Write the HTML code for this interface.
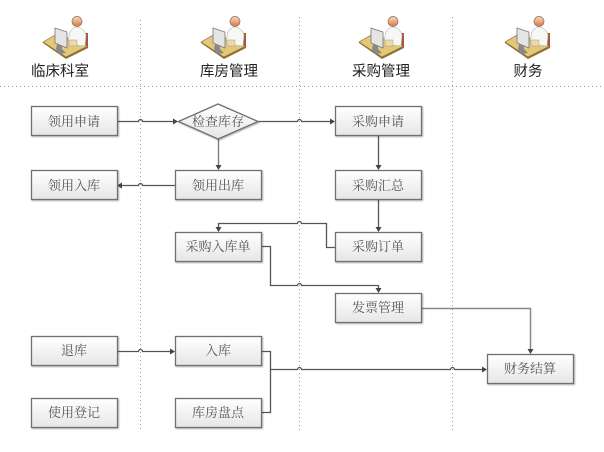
<!DOCTYPE html>
<html><head><meta charset="utf-8"><style>
html,body{margin:0;padding:0;background:#fff}
svg{display:block}
.h{font:14.5px "Liberation Sans","Noto Sans CJK SC",sans-serif;fill:#222;text-anchor:middle}
.l{font:13px "Liberation Serif","Noto Serif CJK SC",serif;fill:#555;text-anchor:middle}
.c{fill:none;stroke:#555;stroke-width:1.3}
.d{stroke:#999;stroke-width:1;stroke-dasharray:1 3;fill:none}
</style></head><body>
<svg width="604" height="452" viewBox="0 0 604 452" xmlns="http://www.w3.org/2000/svg">
<defs>
<linearGradient id="g" x1="0" y1="0" x2="0" y2="1"><stop offset="0" stop-color="#fff"/><stop offset="1" stop-color="#e6e6e6"/></linearGradient>
<linearGradient id="sk" x1="0" y1="0" x2="0" y2="1"><stop offset="0" stop-color="#f8dcc4"/><stop offset="1" stop-color="#d9763f"/></linearGradient>
<g id="p">
<path d="M0 27 L14 19 L45 31 L23 42 Z" fill="#e3c878" stroke="#8a6a35" stroke-width=".7"/>
<path d="M0 27 L23 42 L45 31 L45 33 L23 44 L0 28 Z" fill="#8f6f38"/>
<rect x="42.500" y="18" width="2.500" height="13" fill="#a5583a"/>
<path d="M27 17 Q30 12 34 12 Q41 13 43 20 L42 31 L33 30 L30 25 L25 26 Z" fill="#f7f7f5" stroke="#b5b5b5" stroke-width=".6"/>
<circle cx="34" cy="6.500" r="5" fill="url(#sk)" stroke="#8a6a55" stroke-width=".7"/>
<path d="M12 13 L24 17 L24 33 L12 28 Z" fill="#e4e4e4" stroke="#777" stroke-width=".8"/>
<path d="M14 29 L19 31 L19 34 L23 38 L16 39 L13 34 Z" fill="#888"/>
<rect x="26" y="25" width="8" height="6" fill="#eed9a8" stroke="#a98" stroke-width=".5"/>
</g>
<filter id="s" x="-5%" y="-10%" width="110%" height="130%"><feDropShadow dx="1" dy="1" stdDeviation=".8" flood-color="#000" flood-opacity=".3"/></filter>
</defs>

<!-- separators -->
<path class="d" d="M140.500 20V432M299.500 17V432M452.500 17V432M0 86.500H604"/>

<!-- icons -->
<use href="#p" x="43" y="15"/>
<use href="#p" x="201" y="15"/>
<use href="#p" x="359" y="15"/>
<use href="#p" x="505" y="15"/>

<!-- headers -->
<text class="h" x="60" y="76">临床科室</text>
<text class="h" x="229" y="76">库房管理</text>
<text class="h" x="381" y="76">采购管理</text>
<text class="h" x="528" y="76">财务</text>

<!-- connectors -->
<path class="c" d="M117 121.500H138.500a2 2 0 0 1 4 0H173"/>
<path class="c" d="M258 121.500H297.500a2 2 0 0 1 4 0H330"/>
<path class="c" stroke-width="1.600" style="stroke:#777" d="M218.500 139V165"/>
<path class="c" d="M175 185.500H142.500a2 2 0 0 0 -4 0H122"/>
<path class="c" d="M378.500 136V165"/>
<path class="c" d="M378.500 200V227"/>
<path class="c" d="M335 247.500H326.500V223.500H301.500a2 2 0 0 0 -4 0H218.500V227"/>
<path class="c" d="M261 246.500H270.500V285.500H297.500a2 2 0 0 1 4 0H378.500V288"/>
<path class="c" style="stroke:#888;stroke-width:1.500" d="M422 308.500H530.500V349"/>
<path class="c" d="M117 351.500H138.500a2 2 0 0 1 4 0H170"/>
<path class="c" d="M261 351.500H270.500V412.500H261"/>
<path class="c" d="M270.500 369.500H297.500a2 2 0 0 1 4 0H450.500a2 2 0 0 1 4 0H482"/>

<!-- arrowheads -->
<path fill="#444" d="M178 121.500l-5-3v6z"/>
<path fill="#444" d="M335 121.500l-5-3v6z"/>
<path fill="#444" d="M218.500 170l-3-5h6z"/>
<path fill="#444" d="M117 185.500l5-3v6z"/>
<path fill="#444" d="M378.500 170l-3-5h6z"/>
<path fill="#444" d="M378.500 232l-3-5h6z"/>
<path fill="#444" d="M218.500 232l-3-5h6z"/>
<path fill="#444" d="M378.500 293l-3-5h6z"/>
<path fill="#444" d="M530.500 354l-3-5h6z"/>
<path fill="#444" d="M175 351.500l-5-3v6z"/>
<path fill="#444" d="M487 369.500l-5-3v6z"/>

<!-- boxes -->
<g fill="url(#g)" stroke="#707070" stroke-width="1.300" filter="url(#s)">
<rect x="31.500" y="106.500" width="86" height="29"/>
<rect x="335.500" y="106.500" width="86" height="29"/>
<rect x="31.500" y="170.500" width="86" height="29"/>
<rect x="175.500" y="170.500" width="86" height="29"/>
<rect x="335.500" y="170.500" width="86" height="29"/>
<rect x="175.500" y="232.500" width="86" height="29"/>
<rect x="335.500" y="232.500" width="86" height="29"/>
<rect x="335.500" y="293.500" width="86" height="29"/>
<rect x="31.500" y="336.500" width="86" height="29"/>
<rect x="175.500" y="336.500" width="86" height="29"/>
<rect x="31.500" y="398.500" width="86" height="29"/>
<rect x="175.500" y="398.500" width="86" height="29"/>
<rect x="487.500" y="354.500" width="86" height="29"/>
<path d="M178.500 121.500L218 104L258 121.500L218 139Z"/>
</g>

<!-- labels -->
<text class="l" x="74" y="126">领用申请</text>
<text class="l" x="218" y="126">检查库存</text>
<text class="l" x="378" y="126">采购申请</text>
<text class="l" x="74" y="190">领用入库</text>
<text class="l" x="218" y="190">领用出库</text>
<text class="l" x="378" y="190">采购汇总</text>
<text class="l" x="218" y="251">采购入库单</text>
<text class="l" x="378" y="251">采购订单</text>
<text class="l" x="378" y="312">发票管理</text>
<text class="l" x="74" y="355">退库</text>
<text class="l" x="218" y="355">入库</text>
<text class="l" x="74" y="417">使用登记</text>
<text class="l" x="218" y="417">库房盘点</text>
<text class="l" x="530" y="373">财务结算</text>
</svg>
</body></html>
